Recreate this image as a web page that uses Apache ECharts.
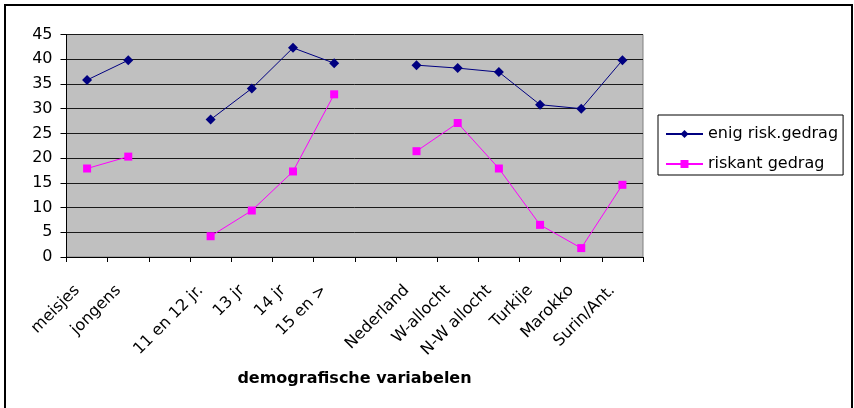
<!DOCTYPE html>
<html>
<head>
<meta charset="utf-8">
<script src="https://cdn.jsdelivr.net/npm/echarts@6/dist/echarts.min.js"></script>
<style>
  html, body { margin: 0; padding: 0; background: #fff; }
  #chart { width: 854px; height: 408px; }
</style>
</head>
<body>
<div id="chart"></div>
<script>
// Categories, with empty slots separating the three groups
const categories = ['meisjes', 'jongens', '', '11 en 12 jr.', '13 jr', '14 jr', '15 en >', '',
  'Nederland', 'W-allocht', 'N-W allocht', 'Turkije', 'Marokko', 'Surin/Ant.'];

// Percentages per group
const enigRisk = [35.8, 39.8, null, 27.8, 34.1, 42.3, 39.2, null, 38.8, 38.2, 37.4, 30.8, 30.0, 39.8];
const riskant = [17.9, 20.3, null, 4.2, 9.4, 17.3, 32.9, null, 21.4, 27.1, 17.9, 6.5, 1.8, 14.6];

const yTicks = { min: 0, max: 45, step: 5 };
const seriesNames = ['enig risk.gedrag', 'riskant gedrag'];
const axisTitle = 'demografische variabelen';

const FONT = 'DejaVu Sans';
const chart = echarts.init(document.getElementById('chart'), null, { renderer: 'canvas' });

chart.setOption({
  animation: false,
  backgroundColor: '#ffffff',
  textStyle: { fontFamily: FONT },
  grid: {
    left: 66.5, top: 34.5, right: 211, bottom: 151,
    show: true,
    backgroundColor: '#c0c0c0',
    borderColor: '#808080',
    borderWidth: 1
  },
  legend: {
    orient: 'vertical',
    left: 658, top: 115,
    padding: [11, 5, 3, 7],
    itemWidth: 37, itemHeight: 10, itemGap: 14,
    borderColor: '#000', borderWidth: 1,
    backgroundColor: '#fff',
    textStyle: { fontFamily: FONT, fontSize: 16, color: '#000', lineHeight: 10 },
    data: seriesNames
  },
  xAxis: {
    type: 'category',
    data: categories,
    boundaryGap: true,
    axisLine: { show: true, lineStyle: { color: '#000', width: 1 } },
    axisTick: { show: true, length: 5, lineStyle: { color: '#000' }, interval: 0 },
    axisLabel: {
      interval: 0, rotate: 45, margin: 21,
      padding: [0, 14, 0, 0],
      fontFamily: FONT, fontSize: 16, color: '#000'
    },
    splitLine: { show: false }
  },
  yAxis: {
    type: 'value',
    min: yTicks.min, max: yTicks.max, interval: yTicks.step,
    axisLine: { show: true, lineStyle: { color: '#000', width: 1 } },
    axisTick: { show: true, length: 6, lineStyle: { color: '#000' } },
    axisLabel: { margin: 14, fontFamily: FONT, fontSize: 16, color: '#000' },
    splitLine: { show: true, lineStyle: { color: '#1a1a1a', width: 1 } }
  },
  series: [
    {
      name: seriesNames[0], type: 'line', data: enigRisk,
      connectNulls: false,
      symbol: 'diamond', symbolSize: 10,
      lineStyle: { color: '#000080', width: 1 },
      itemStyle: { color: '#000080' }
    },
    {
      name: seriesNames[1], type: 'line', data: riskant,
      connectNulls: false,
      symbol: 'rect', symbolSize: 8,
      lineStyle: { color: '#ff00ff', width: 1 },
      itemStyle: { color: '#ff00ff' }
    }
  ],
  graphic: [
    {
      type: 'rect', silent: true,
      shape: { x: 5, y: 5, width: 847, height: 430 },
      style: { fill: null, stroke: '#000', lineWidth: 2 }
    },
    {
      type: 'text', silent: true,
      x: 354.5, y: 379,
      style: {
        text: axisTitle, fontFamily: FONT, fontSize: 16, fontWeight: 'bold',
        fill: '#000', align: 'center', verticalAlign: 'middle'
      }
    }
  ]
});
</script>
</body>
</html>
